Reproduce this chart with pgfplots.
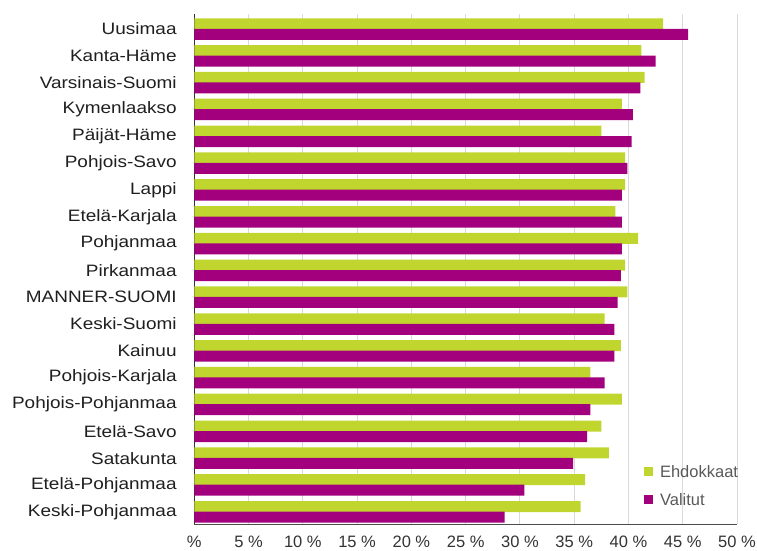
\documentclass[border=0pt]{standalone}
\usepackage{fontspec}
\setmainfont{Liberation Sans}
\newfontfamily\catfont[FakeStretch=1.15]{Liberation Sans}
\usepackage{pgfplots}
\usepackage{pgfplotstable}
\pgfplotsset{compat=1.18}
\definecolor{cgreen}{HTML}{C0D62F}
\definecolor{cpurple}{HTML}{A3007E}
\definecolor{cgrid}{HTML}{D9D9D9}
\definecolor{ctext}{HTML}{1F1F1F}
\definecolor{ctick}{HTML}{333333}
\definecolor{cleg}{HTML}{595959}
\pgfplotstableread{
idx eh va
0 43.2 45.5
1 41.2 42.5
2 41.5 41.1
3 39.4 40.4
4 37.5 40.3
5 39.7 39.9
6 39.7 39.4
7 38.8 39.4
8 40.9 39.4
9 39.7 39.3
10 39.9 39.0
11 37.8 38.7
12 39.3 38.7
13 36.5 37.8
14 39.4 36.5
15 37.5 36.2
16 38.2 34.9
17 36.0 30.4
18 35.6 28.6
}\datatable
\begin{document}
\begin{tikzpicture}
\path[use as bounding box] (0,0) rectangle (757pt,551pt);
\begin{axis}[
  at={(194.3pt,26.7pt)}, anchor=south west,
  scale only axis, width=542.7pt, height=510.3pt,
  xbar, bar width=11pt,
  xmin=0, xmax=50, ymin=-0.561, ymax=18.468, y dir=reverse,
  xtick={0,5,...,50},
  xticklabels={\%,5 \%,10 \%,15 \%,20 \%,25 \%,30 \%,35 \%,40 \%,45 \%,50 \%},
  ytick={0,...,18},
  yticklabels={Uusimaa,Kanta-Häme,Varsinais-Suomi,Kymenlaakso,Päijät-Häme,Pohjois-Savo,Lappi,Etelä-Karjala,Pohjanmaa,Pirkanmaa,MANNER-SUOMI,Keski-Suomi,Kainuu,Pohjois-Karjala,Pohjois-Pohjanmaa,Etelä-Savo,Satakunta,Etelä-Pohjanmaa,Keski-Pohjanmaa},
  major tick length=0pt,
  xmajorgrids, major grid style={cgrid, line width=1pt},
  axis x line*=bottom, axis y line*=left,
  x axis line style={-, color=black!70, line width=1pt},
  y axis line style={-, color=black!80, line width=1pt},
  yticklabel style={font=\catfont\fontsize{16.5}{18}\selectfont, text=ctext, anchor=east, inner sep=0pt, xshift=-17.5pt},
  xticklabel style={font=\fontsize{16.5}{18}\selectfont, text=ctick, anchor=base, inner sep=0pt, yshift=-23.5pt},
  /pgf/number format/assume math mode=true,
  legend image code/.code={\fill[#1,draw=none] (0pt,-4.75pt) rectangle (9.5pt,4.75pt);},
  legend style={at={(0.828,0.116)}, anchor=north west, draw=none, fill=none, inner sep=0pt,
    font=\fontsize{16.5}{18}\selectfont, text=cleg, row sep=16pt,
    nodes={inner sep=0pt, text height=12pt, text depth=0pt},
    /tikz/every odd column/.append style={column sep=6.7pt}},
  legend cell align=left,
]
\addplot[fill=cgreen, draw=none, bar shift=5.25pt] table[x=eh, y=idx] {\datatable};
\addplot[fill=cpurple, draw=none, bar shift=-5.25pt] table[x=va, y=idx] {\datatable};
\legend{Ehdokkaat, Valitut}
\end{axis}
\end{tikzpicture}
\end{document}
